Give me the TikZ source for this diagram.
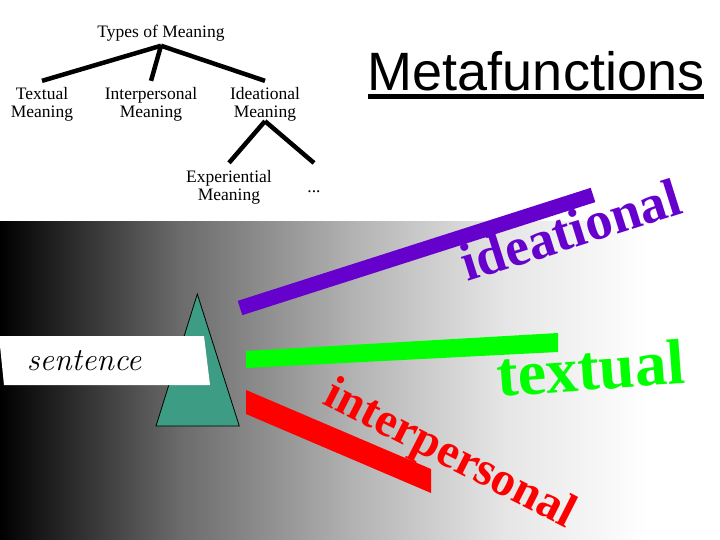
\documentclass[tikz,border=0pt]{standalone}
\usepackage{fontspec}
\newfontfamily\tnr{Liberation Serif}
\newfontfamily\arial{Liberation Sans}
\definecolor{purp}{RGB}{102,0,204}
\definecolor{tealtri}{RGB}{60,156,132}
\definecolor{gbar}{RGB}{0,255,0}
\definecolor{rbar}{RGB}{255,0,0}
\pgfdeclarehorizontalshading{bgshade}{100bp}{color(0bp)=(black); color(25bp)=(black); color(37.5bp)=(black!58); color(50bp)=(black!29); color(60bp)=(black!10); color(70bp)=(white); color(100bp)=(white)}
\tikzset{
  treetxt/.style={font=\tnr\fontsize{17.5}{18}\selectfont, align=center, inner sep=0pt},
  branch/.style={line width=4.5pt},
  bigword/.style={inner sep=0pt, anchor=base}
}
\begin{document}
\begin{tikzpicture}[x=1pt,y=-1pt]
\useasboundingbox (0,0) rectangle (720,540);
\fill[white] (0,0) rectangle (720,540);
\shade[shading=bgshade] (0,222) rectangle (720,540);

% triangle
\filldraw[fill=tealtri, draw=black, line width=0.8pt] (197.3,294) -- (239.3,426) -- (156,426) -- cycle;
% sentence box
\fill[white] (-1,336) -- (204,336) -- (210,385) -- (4,385) -- cycle;
\node[font=\fontsize{32}{32}\selectfont\itshape, anchor=base, inner sep=0pt] (sent) at (84,370) {sentence};

% bars
\draw[purp, line width=15pt] (240,308) -- (593,195);
\fill[gbar] (246,351) -- (558,333) -- (558,352) -- (246,368) -- cycle;
\fill[rbar] (246,390) -- (431,469) -- (431,493) -- (246,414) -- cycle;

% rotated words
\node[bigword, font=\tnr\bfseries\fontsize{54}{54}\selectfont, text=purp, rotate=17.5] (idea) at (576,247.5) {ideational};
\node[bigword, font=\tnr\bfseries\fontsize{64}{64}\selectfont, text=gbar, rotate=4.2] (text) at (592,390) {textual};
\node[bigword, font=\tnr\bfseries\fontsize{48}{48}\selectfont, text=rbar, rotate=-27] (inter) at (444,466) {interpersonal};

% tree
\node[treetxt] (types) at (161,33.5) {Types of Meaning};
\node[treetxt] (textm) at (42,104) {Textual\\Meaning};
\node[treetxt] (interm) at (151,104) {Interpersonal\\Meaning};
\node[treetxt] (ideam) at (265,104) {Ideational\\Meaning};
\node[treetxt] (expm) at (229,187) {Experiential\\Meaning};
\node[inner sep=0pt, anchor=base, font=\tnr\fontsize{17.5}{18}\selectfont] (dots) at (314,193) {...};
\draw[branch] ([yshift=-4pt]types.south) -- ([yshift=6pt]textm.north);
\draw[branch] ([yshift=-4pt]types.south) -- ([yshift=6pt]interm.north);
\draw[branch] ([yshift=-4pt]types.south) -- ([yshift=6pt]ideam.north);
\draw[branch] (ideam.south) -- ([yshift=7pt]expm.north);
\draw[branch] (ideam.south) -- ([yshift=28pt]dots.north);

% title
\node[bigword, font=\arial\fontsize{54}{54}\selectfont] (meta) at (536,91) {Metafunctions};
\draw[line width=4.5pt] ([yshift=-5.7pt]meta.base west) -- ([yshift=-5.7pt]meta.base east);
\end{tikzpicture}
\end{document}
